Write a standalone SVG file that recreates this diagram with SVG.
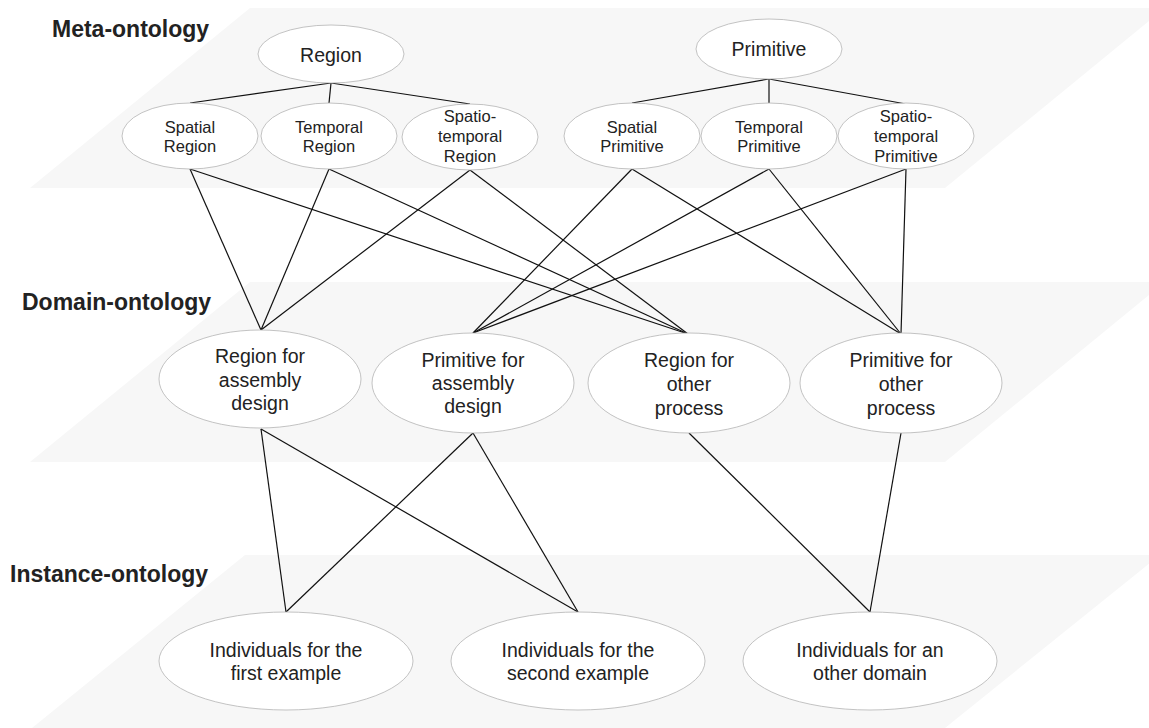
<svg xmlns="http://www.w3.org/2000/svg" width="1149" height="728" viewBox="0 0 1149 728">
<style>
.plane{fill:#f7f7f7;stroke:none}
.node ellipse{fill:#ffffff;stroke:#b4b4b4;stroke-width:0.8}
.node text{font-family:"Liberation Sans",Arial,sans-serif;fill:#222;text-anchor:middle}
.s{font-size:16.5px}
.m{font-size:19.5px}
.title{font-family:"Liberation Sans",Arial,sans-serif;font-weight:bold;font-size:23px;fill:#222}
#connectors line{stroke:#111;stroke-width:1.2}
</style>
<rect x="0" y="0" width="1149" height="728" fill="#ffffff"/>
<g id="planes">
<polygon class="plane" points="250,8 1165,8 945,188 30,188"/>
<polygon class="plane" points="250,282 1165,282 945,462 30,462"/>
<polygon class="plane" points="245,555 1160,555 945,728 32,728"/>
</g>
<g id="titles">
<text class="title" x="52" y="37">Meta-ontology</text>
<text class="title" x="22" y="310">Domain-ontology</text>
<text class="title" x="10" y="582">Instance-ontology</text>
</g>
<g id="connectors">
<line x1="331" y1="83" x2="190" y2="103"/>
<line x1="331" y1="83" x2="329" y2="103"/>
<line x1="331" y1="83" x2="470" y2="104"/>
<line x1="769" y1="79" x2="632" y2="103"/>
<line x1="769" y1="79" x2="769" y2="103"/>
<line x1="769" y1="79" x2="906" y2="104"/>
<line x1="190" y1="169" x2="261" y2="330"/>
<line x1="190" y1="169" x2="688" y2="334"/>
<line x1="329" y1="169" x2="261" y2="330"/>
<line x1="329" y1="169" x2="688" y2="334"/>
<line x1="470" y1="170" x2="261" y2="330"/>
<line x1="470" y1="170" x2="688" y2="334"/>
<line x1="632" y1="169" x2="473" y2="333"/>
<line x1="632" y1="169" x2="901" y2="334"/>
<line x1="769" y1="169" x2="473" y2="333"/>
<line x1="769" y1="169" x2="901" y2="334"/>
<line x1="906" y1="169" x2="473" y2="333"/>
<line x1="906" y1="169" x2="901" y2="334"/>
<line x1="261" y1="429" x2="286" y2="612"/>
<line x1="261" y1="429" x2="578" y2="612"/>
<line x1="473" y1="433" x2="286" y2="612"/>
<line x1="473" y1="433" x2="578" y2="612"/>
<line x1="689" y1="433" x2="870" y2="612"/>
<line x1="901" y1="433" x2="870" y2="612"/>
</g>
<g id="n-region" class="node"><ellipse cx="331" cy="54" rx="73" ry="29"/><text class="m" x="331" y="62">Region</text></g>
<g id="n-primitive" class="node"><ellipse cx="769" cy="49" rx="73" ry="30"/><text class="m" x="769" y="56">Primitive</text></g>
<g id="n-spatial-region" class="node"><ellipse cx="190" cy="136" rx="68" ry="33"/><text class="s"><tspan x="190" y="133">Spatial</tspan><tspan x="190" y="152">Region</tspan></text></g>
<g id="n-temporal-region" class="node"><ellipse cx="329" cy="136" rx="68" ry="33"/><text class="s"><tspan x="329" y="133">Temporal</tspan><tspan x="329" y="152">Region</tspan></text></g>
<g id="n-spatiotemporal-region" class="node"><ellipse cx="470" cy="137" rx="68" ry="33"/><text class="s"><tspan x="470" y="122">Spatio-</tspan><tspan x="470" y="142">temporal</tspan><tspan x="470" y="162">Region</tspan></text></g>
<g id="n-spatial-primitive" class="node"><ellipse cx="632" cy="136" rx="68" ry="33"/><text class="s"><tspan x="632" y="133">Spatial</tspan><tspan x="632" y="152">Primitive</tspan></text></g>
<g id="n-temporal-primitive" class="node"><ellipse cx="769" cy="136" rx="68" ry="33"/><text class="s"><tspan x="769" y="133">Temporal</tspan><tspan x="769" y="152">Primitive</tspan></text></g>
<g id="n-spatiotemporal-primitive" class="node"><ellipse cx="906" cy="136" rx="68" ry="33"/><text class="s"><tspan x="906" y="122">Spatio-</tspan><tspan x="906" y="142">temporal</tspan><tspan x="906" y="162">Primitive</tspan></text></g>
<g id="n-region-assembly" class="node"><ellipse cx="260" cy="379" rx="101" ry="49"/><text class="m"><tspan x="260" y="363">Region for</tspan><tspan x="260" y="386.5">assembly</tspan><tspan x="260" y="410">design</tspan></text></g>
<g id="n-primitive-assembly" class="node"><ellipse cx="473" cy="383" rx="101" ry="50"/><text class="m"><tspan x="473" y="367">Primitive for</tspan><tspan x="473" y="390">assembly</tspan><tspan x="473" y="413">design</tspan></text></g>
<g id="n-region-other" class="node"><ellipse cx="689" cy="383" rx="101" ry="50"/><text class="m"><tspan x="689" y="367">Region for</tspan><tspan x="689" y="391">other</tspan><tspan x="689" y="415">process</tspan></text></g>
<g id="n-primitive-other" class="node"><ellipse cx="901" cy="383" rx="101" ry="50"/><text class="m"><tspan x="901" y="367">Primitive for</tspan><tspan x="901" y="391">other</tspan><tspan x="901" y="415">process</tspan></text></g>
<g id="n-ind-first" class="node"><ellipse cx="286" cy="661" rx="127" ry="49"/><text class="m"><tspan x="286" y="657">Individuals for the</tspan><tspan x="286" y="680">first example</tspan></text></g>
<g id="n-ind-second" class="node"><ellipse cx="578" cy="661" rx="127" ry="49"/><text class="m"><tspan x="578" y="657">Individuals for the</tspan><tspan x="578" y="680">second example</tspan></text></g>
<g id="n-ind-other" class="node"><ellipse cx="870" cy="661" rx="127" ry="49"/><text class="m"><tspan x="870" y="657">Individuals for an</tspan><tspan x="870" y="680">other domain</tspan></text></g>
</svg>
